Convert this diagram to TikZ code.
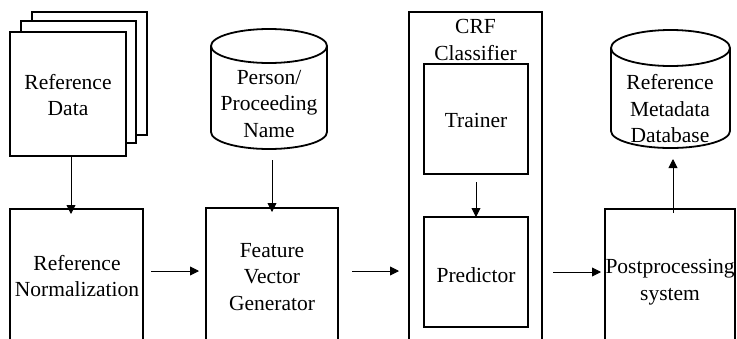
\documentclass[tikz,border=0pt]{standalone}
\usepackage{fontspec}
\setmainfont{Liberation Serif}
\usetikzlibrary{arrows.meta}
\begin{document}
\begin{tikzpicture}[x=1pt,y=-1pt,
  box/.style={draw,line width=1.8pt,fill=white},
  lbl/.style={align=center,font=\fontsize{21.5}{26.5}\selectfont,inner sep=0pt},
  flow/.style={line width=0.9pt,-{Triangle[width=9pt,length=9pt]}},
  cyl/.style={draw,line width=1.8pt}]
\useasboundingbox (0,0) rectangle (737,338);

% stacked reference sheets
\draw[box] (32,12) rectangle (147,135);
\draw[box] (21,21) rectangle (136,143);
\draw[box] (10,32) rectangle (126,156);
\node[lbl] (refdata) at (68,95) {Reference\\Data};
\coordinate (refdataS) at (71,156);

% person / proceeding name database
\draw[cyl,fill=white] (211,46) -- (211,132) arc[start angle=180,end angle=0,x radius=58,y radius=17]
  -- (327,46);
\draw[cyl] (269,46) ellipse[x radius=58,y radius=17];
\node[lbl] (person) at (269,104) {Person/\\Proceeding\\Name};
\coordinate (personS) at (272,160);

% reference metadata database
\draw[cyl,fill=white] (611,48) -- (611,131) arc[start angle=180,end angle=0,x radius=59.5,y radius=17]
  -- (730,48);
\draw[cyl] (670.5,48) ellipse[x radius=59.5,y radius=18];
\node[lbl] (metadb) at (670,109) {Reference\\Metadata\\Database};
\coordinate (metadbS) at (673,159);

% processing boxes (running past the lower edge)
\draw[box] (10,209) rectangle (143,360);
\node[lbl] (norm) at (77,276) {Reference\\Normalization};
\coordinate (normE) at (143,271);

\draw[box] (206,208) rectangle (338,360);
\node[lbl] (feat) at (272,277) {Feature\\Vector\\Generator};
\coordinate (featW) at (206,271);
\coordinate (featE) at (338,271);

% CRF classifier with trainer and predictor
\draw[box] (409,12) rectangle (542,360);
\node[lbl] (crf) at (475.5,40) {CRF\\Classifier};
\coordinate (crfW) at (409,271);
\coordinate (crfE) at (542,272);
\draw[box] (424,64) rectangle (528,174);
\node[lbl] (trainer) at (476,120) {Trainer};
\draw[box] (424,217) rectangle (528,327);
\node[lbl] (predictor) at (476,275) {Predictor};

\draw[box] (605,209) rectangle (735,360);
\node[lbl] (post) at (670,282) {Postprocessing\\system};
\coordinate (postW) at (605,272);
\coordinate (postN) at (673,209);

% connectors
\draw[flow] (refdataS) -- ([yshift=-5pt]refdataS |- 0,209);
\draw[flow] (personS) -- ([yshift=-4pt]personS |- 0,208);
\draw[flow] ([xshift=8pt]normE) -- ([xshift=-7pt]featW);
\draw[flow] ([xshift=14pt]featE) -- ([xshift=-10pt]crfW);
\draw[flow] ([yshift=-8pt]trainer.center |- 0,174) -- (trainer.center |- 0,217);
\draw[flow] ([xshift=11pt]crfE) -- ([xshift=-4pt]postW);
\draw[flow] ([yshift=-4pt]postN) -- (metadbS);
\end{tikzpicture}
\end{document}
